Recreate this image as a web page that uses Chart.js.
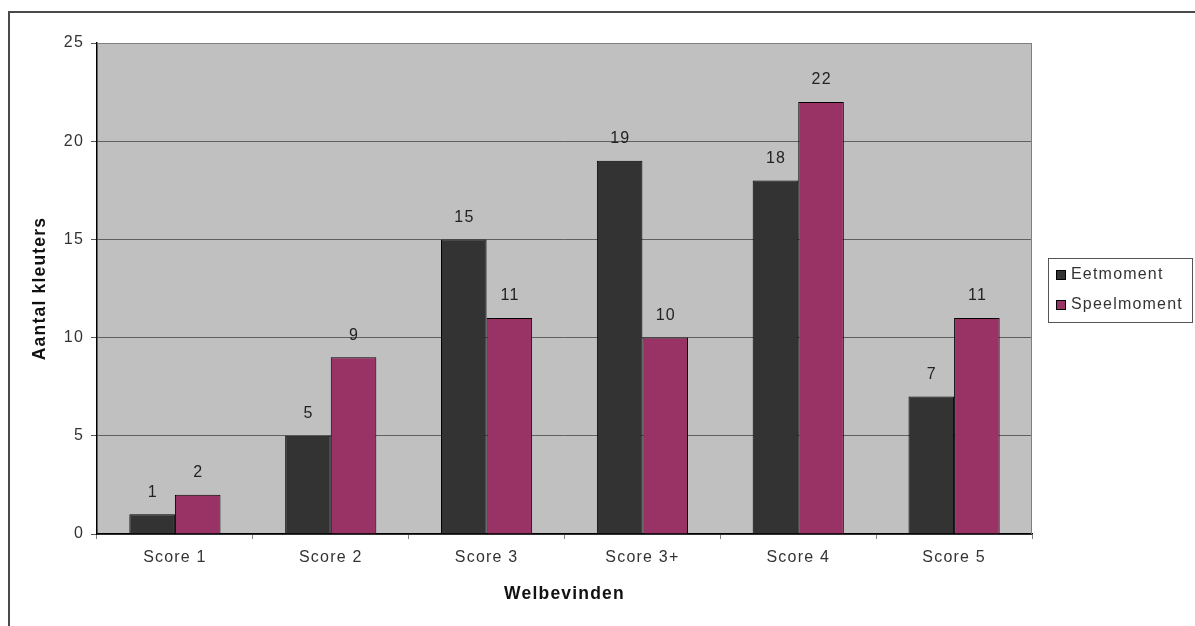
<!DOCTYPE html>
<html>
<head>
<meta charset="utf-8">
<script src="https://cdn.jsdelivr.net/npm/chart.js@4.4.1/dist/chart.umd.min.js"></script>
<style>
  html, body { margin: 0; padding: 0; background: #ffffff; }
  #wrap { position: relative; width: 1195px; height: 626px; }
  canvas { display: block; }
</style>
</head>
<body>
<div id="wrap"><canvas id="c" width="1195" height="626"></canvas></div>
<script>
const categories = ["Score 1", "Score 2", "Score 3", "Score 3+", "Score 4", "Score 5"];
const seriesNames = ["Eetmoment", "Speelmoment"];
const eetmoment = [1, 5, 15, 19, 18, 7];
const speelmoment = [2, 9, 11, 10, 22, 11];
const yTicks = [0, 5, 10, 15, 20, 25];
const xTitle = "Welbevinden";
const yTitle = "Aantal kleuters";

const FONT = "'Liberation Sans', Arial, sans-serif";
const SPACING = '1.2px';

const framePlugin = {
  id: 'frame',
  beforeDraw(chart) {
    const ctx = chart.ctx;
    const a = chart.chartArea;
    ctx.save();
    ctx.strokeStyle = '#4a4a4a';
    ctx.lineWidth = 2;
    ctx.beginPath();
    ctx.moveTo(9, 700);
    ctx.lineTo(9, 12);
    ctx.lineTo(1300, 12);
    ctx.stroke();
    ctx.fillStyle = '#c0c0c0';
    ctx.fillRect(a.left, a.top, a.right - a.left, a.bottom - a.top);
    ctx.restore();
    ctx.letterSpacing = SPACING;
  },
  beforeDatasetsDraw(chart) {
    const ctx = chart.ctx;
    const a = chart.chartArea;
    ctx.save();
    ctx.strokeStyle = '#808080';
    ctx.lineWidth = 1;
    ctx.beginPath();
    ctx.moveTo(a.left, a.top + 0.5);
    ctx.lineTo(a.right - 0.5, a.top + 0.5);
    ctx.lineTo(a.right - 0.5, a.bottom);
    ctx.stroke();
    ctx.restore();
  },
  afterDraw(chart) {
    const ctx = chart.ctx;
    ctx.save();
    ctx.letterSpacing = SPACING;
    ctx.font = "16px " + FONT;
    ctx.fillStyle = '#222';
    ctx.textAlign = 'center';
    ctx.textBaseline = 'middle';
    chart.data.datasets.forEach((ds, i) => {
      const meta = chart.getDatasetMeta(i);
      meta.data.forEach((bar, j) => {
        ctx.fillText(String(ds.data[j]), bar.x + 0.6, bar.y - 22);
      });
    });
    const lx = 1048, ly = 258, lw = 144, lh = 64;
    ctx.fillStyle = '#ffffff';
    ctx.fillRect(lx, ly, lw, lh);
    ctx.strokeStyle = '#555';
    ctx.lineWidth = 1;
    ctx.strokeRect(lx + 0.5, ly + 0.5, lw, lh);
    ctx.textAlign = 'left';
    ctx.font = "16px " + FONT;
    chart.data.datasets.forEach((ds, i) => {
      const cy = 275 + i * 30;
      ctx.fillStyle = ds.backgroundColor;
      ctx.fillRect(1056, cy - 5, 10, 10);
      ctx.strokeStyle = '#000';
      ctx.strokeRect(1056.5, cy - 4.5, 9, 9);
      ctx.fillStyle = '#333';
      ctx.fillText(ds.label, 1071, cy);
    });
    ctx.restore();
  }
};

new Chart(document.getElementById('c'), {
  type: 'bar',
  data: {
    labels: categories,
    datasets: [
      { label: seriesNames[0], data: eetmoment, backgroundColor: '#333333', borderColor: '#000000', borderWidth: 1 },
      { label: seriesNames[1], data: speelmoment, backgroundColor: '#993366', borderColor: '#000000', borderWidth: 1 }
    ]
  },
  options: {
    responsive: false,
    animation: false,
    events: [],
    layout: { padding: { top: 43, right: 163, left: 0, bottom: 0 } },
    datasets: { bar: { categoryPercentage: 0.585, barPercentage: 1.0 } },
    plugins: { legend: { display: false }, tooltip: { enabled: false }, title: { display: false } },
    scales: {
      x: {
        offset: true,
        grid: { offset: true, drawOnChartArea: false, drawTicks: true, tickLength: 5, color: '#808080' },
        border: { display: true, color: '#000', width: 1.5 },
        ticks: { autoSkip: false, maxRotation: 0, padding: 9, color: '#333', font: { family: FONT, size: 16 } },
        title: { display: true, text: xTitle, color: '#111', font: { family: FONT, size: 17.5, weight: 'bold' }, padding: { top: 0, bottom: 21 } },
        afterFit(scale) { scale.height = 92; }
      },
      y: {
        min: 0, max: 25,
        afterBuildTicks(scale) { scale.ticks = yTicks.map(v => ({ value: v })); },
        grid: { color: '#606060', lineWidth: 1, drawTicks: true, tickLength: 6, tickColor: '#555' },
        border: { display: true, color: '#000', width: 1.5 },
        ticks: { padding: 7, color: '#333', font: { family: FONT, size: 16 } },
        title: { display: true, text: yTitle, color: '#111', font: { family: FONT, size: 17.5, weight: 'bold' }, padding: { top: 30, bottom: 0 } },
        afterFit(scale) { scale.width = 97; }
      }
    }
  },
  plugins: [framePlugin]
});
</script>
</body>
</html>
